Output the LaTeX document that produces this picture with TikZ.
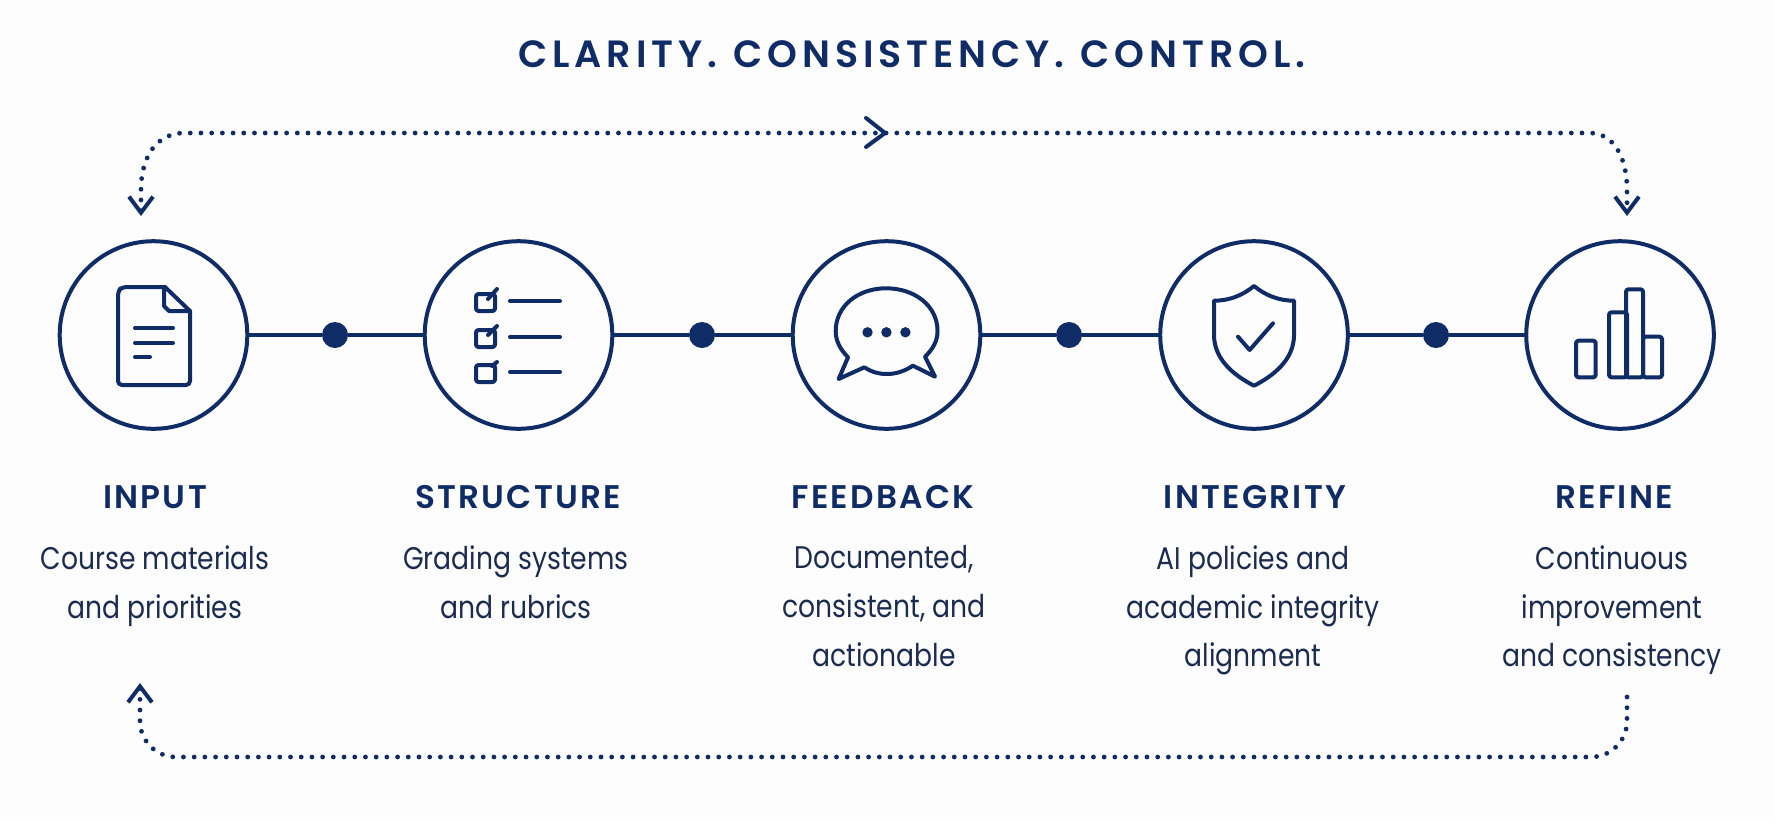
\documentclass[tikz,border=0pt]{standalone}
\usepackage{fontspec}
\setmainfont{Poppins}
\newfontfamily\titlefont[LetterSpace=13, WordSpace=1.15]{Poppins SemiBold}
\newfontfamily\headfont[LetterSpace=7]{Poppins SemiBold}
\newfontfamily\blurbfont[FakeStretch=0.85]{Poppins}
\usetikzlibrary{arrows.meta}
\definecolor{navy}{HTML}{0F2C66}
\definecolor{bodyink}{HTML}{1C2B50}
\definecolor{paper}{HTML}{FDFDFD}
\tikzset{
  looptip/.tip={Straight Barb[length=0.16cm, width=0.24cm, line width=0.04cm]},
  stepcircle/.style={circle, draw=navy, line width=0.04cm, minimum size=1.875cm, inner sep=0, outer sep=0},
  stepdot/.style={circle, fill=navy, minimum size=0.26cm, inner sep=0, outer sep=0},
  link/.style={navy, line width=0.04cm},
  icon/.style={navy, line width=0.04cm, line join=round, line cap=round},
  loopline/.style={navy, line width=0.048cm, line cap=round, dash pattern=on 0pt off 0.107cm},
  barb/.style={navy, line width=0.04cm, line cap=round, line join=round},
  heading/.style={navy, font=\headfont\fontsize{9.3}{11}\selectfont, anchor=base},
  blurb/.style={bodyink, font=\blurbfont\fontsize{8.9}{13.83}\selectfont, align=center, anchor=north, inner sep=0},
}
\begin{document}
\begin{tikzpicture}[x=0.01cm, y=-0.01cm]
  \fill[paper] (0, 0) rectangle (1774, 821);
  \useasboundingbox (0, 0) rectangle (1774, 821);

  % Title.
  \node[navy, font=\titlefont\fontsize{10.8}{13}\selectfont, anchor=base] (title) at (912, 67.3) {CLARITY. CONSISTENCY. CONTROL.};

  % Step circles.
  \node[stepcircle] (input) at (153.5, 335) {};
  \node[stepcircle] (structure) at (518.5, 335) {};
  \node[stepcircle] (feedback) at (886.5, 335) {};
  \node[stepcircle] (integrity) at (1254, 335) {};
  \node[stepcircle] (refine) at (1620, 335) {};

  % Dots on the line.
  \node[stepdot] (dotA) at (335, 335) {};
  \node[stepdot] (dotB) at (702, 335) {};
  \node[stepdot] (dotC) at (1069, 335) {};
  \node[stepdot] (dotD) at (1436, 335) {};

  % Links.
  \draw[link] (input) -- (dotA);
  \draw[link] (dotA) -- (structure);
  \draw[link] (structure) -- (dotB);
  \draw[link] (dotB) -- (feedback);
  \draw[link] (feedback) -- (dotC);
  \draw[link] (dotC) -- (integrity);
  \draw[link] (integrity) -- (dotD);
  \draw[link] (dotD) -- (refine);

  % Free ends of the dotted loops.
  \coordinate (topleft) at (141, 216);
  \coordinate (topright) at (1627, 216);
  \coordinate (topmid) at (885, 133);
  \coordinate (botleft) at (140, 683);
  \coordinate (botright) at (1627, 697);
  \coordinate (botmid) at (885, 757);

  % Top loop.
  \draw[loopline, {looptip}-{looptip}] (topleft) -- ++(0, -26)
    .. controls (141, 155) and (158, 133) .. (184, 133)
    -- (topmid) -- (1590, 133)
    .. controls (1612, 133) and (1627, 155) .. (1627, 190) -- (topright);
  % Middle chevron.
  \draw[barb] (866, 118) -- (topmid) -- (866, 147);
  % Bottom loop.
  \draw[loopline, rounded corners=0.36cm, -{looptip}] (botright) |- (botmid) -| (botleft);

  % Document icon.
  \draw[icon, rounded corners=0.04cm] (165, 287) -- (122, 287) -- (118, 291) -- (118, 385) -- (190, 385) -- (190, 311);
  \draw[icon] (165, 287) -- (190, 311) -- (169, 311) -- (164, 306) -- (164, 287);
  \draw[icon] (135, 328) -- (173, 328);
  \draw[icon] (135, 343) -- (173, 343);
  \draw[icon] (135, 357) -- (150, 357);

  % Checklist icon.
  \foreach \y in {294, 330, 365} {
    \draw[icon, rounded corners=0.025cm] (476, \y) rectangle (495, \y + 17);
    \draw[icon] (510, \y + 7) -- (560, \y + 7);
  }
  \draw[icon] (488, 299) -- (497, 289);
  \draw[icon] (488, 335) -- (497, 326);
  \draw[icon] (492, 366) -- (497, 362);

  % Speech bubble icon.
  \draw[icon] (848, 357.3) .. controls (840, 349) and (835.7, 341) .. (835.7, 331)
    .. controls (835.7, 306) and (858, 288.3) .. (886, 288.3)
    .. controls (915, 288.3) and (937.5, 306) .. (937.5, 331)
    .. controls (937.5, 341) and (933, 349) .. (925, 356.7)
    -- (935, 376.7) -- (912.9, 365.7)
    .. controls (905, 371) and (896, 374) .. (887, 374)
    .. controls (878, 374) and (872, 372) .. (864.3, 367.3)
    -- (838.6, 379) -- cycle;
  \foreach \x in {867.5, 886.4, 905.4} {
    \fill[navy] (\x, 332.3) circle (5.2);
  }

  % Shield icon.
  \draw[icon] (1254, 286) .. controls (1243, 295) and (1230, 300.7) .. (1214, 300.7)
    -- (1214, 335) .. controls (1214, 360) and (1235, 376) .. (1254, 385.7)
    .. controls (1273, 376) and (1294, 360) .. (1294, 335)
    -- (1294, 300.7) .. controls (1278, 300.7) and (1265, 295) .. cycle;
  \draw[icon] (1238, 336.7) -- (1249.6, 350) -- (1273, 323.3);

  % Bar chart icon.
  \draw[icon, rounded corners=0.025cm] (1576, 340.7) rectangle (1595.7, 377.3);
  \draw[icon, rounded corners=0.025cm] (1609, 312.3) rectangle (1627, 377.3);
  \draw[icon, rounded corners=0.025cm] (1626, 289.3) rectangle (1643, 377.3);
  \draw[icon, rounded corners=0.025cm] (1643, 336.7) rectangle (1662, 377.3);

  % Headings.
  \node[heading] (inputhead) at (155, 508) {INPUT};
  \node[heading] (structurehead) at (518, 508) {STRUCTURE};
  \node[heading] (feedbackhead) at (883, 508) {FEEDBACK};
  \node[heading] (integrityhead) at (1255, 508) {INTEGRITY};
  \node[heading] (refinehead) at (1614, 508) {REFINE};

  % Descriptions.
  \node[blurb] (inputtext) at (155, 545) {Course materials\\and priorities};
  \node[blurb] (structuretext) at (516, 545) {Grading systems\\and rubrics};
  \node[blurb] (feedbacktext) at (884, 545) {Documented,\\consistent, and\\actionable};
  \node[blurb] (integritytext) at (1253, 545) {AI policies and\\academic integrity\\alignment};
  \node[blurb] (refinetext) at (1612, 545) {Continuous\\improvement\\and consistency};
\end{tikzpicture}
\end{document}
